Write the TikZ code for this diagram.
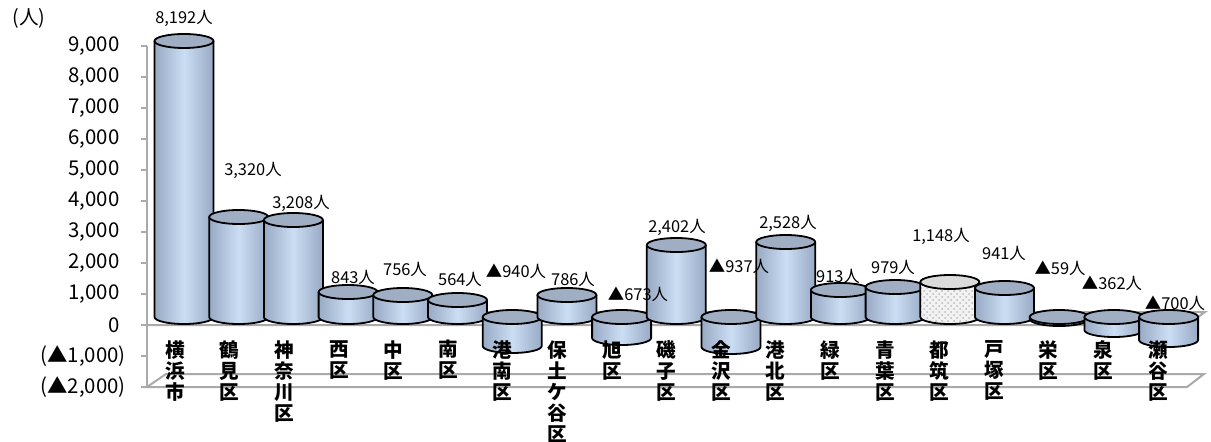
\documentclass[tikz,border=0pt]{standalone}
\usepackage{fontspec}
\setmainfont{Noto Sans CJK JP}
\usepackage{tikz}
\usetikzlibrary{patterns}

\definecolor{barmid}{RGB}{204,222,244}
\definecolor{baredge}{RGB}{152,170,196}
\definecolor{bartop}{RGB}{160,174,196}
\definecolor{axisgray}{RGB}{170,170,170}

% cylinder: #1 x centre, #2 lower end, #3 upper end, #4 body fill, #5 top fill
\newcommand{\cylbar}[5]{%
	\fill[#4] (#1-29.5,#2) -- (#1-29.5,#3) -- (#1+29.5,#3) -- (#1+29.5,#2)
		arc[start angle=0,end angle=-180,x radius=29.5,y radius=7] -- cycle;
	\draw[cyl] (#1-29.5,#3) -- (#1-29.5,#2)
		arc[start angle=180,end angle=360,x radius=29.5,y radius=7] -- (#1+29.5,#3);
	\filldraw[cyl,#5] (#1,#3) ellipse[x radius=29.5,y radius=7];
}

\begin{document}
\begin{tikzpicture}[x=0.5pt, y=0.5pt,
		cyl/.style={draw=black, line width=0.9pt},
		body/.style={left color=baredge, right color=baredge, middle color=barmid},
		top/.style={fill=bartop},
		dotbody/.style={preaction={fill=gray!10}, pattern=crosshatch dots, pattern color=gray!55},
		dottop/.style={fill=gray!28},
		grid/.style={draw=axisgray, line width=1pt},
		tick/.style={font=\fontsize{10.2}{12}\selectfont, anchor=east, inner sep=0pt},
		val/.style={font=\fontsize{8.2}{10}\selectfont, inner sep=0pt},
		ward/.style={font=\bfseries\fontsize{9.8}{10.5}\selectfont, anchor=north, align=center, inner sep=0pt}]
	
	\useasboundingbox (0,-124) rectangle (1211,317);
	
	% Unit
	\node[font=\fontsize{9.8}{11}\selectfont, inner sep=0pt] (unit) at (29,299) {(人)};
	
	% Vertical axis and ticks
	\draw[grid] (147,271) -- (147,-70);
	\draw[grid] (141,271) -- (147,271);
	\draw[grid] (141,240) -- (147,240);
	\draw[grid] (141,209) -- (147,209);
	\draw[grid] (141,178) -- (147,178);
	\draw[grid] (141,147) -- (147,147);
	\draw[grid] (141,116) -- (147,116);
	\draw[grid] (141,85) -- (147,85);
	\draw[grid] (141,54) -- (147,54);
	\draw[grid] (141,23) -- (147,23);
	\draw[grid] (141,-8) -- (147,-8);
	\draw[grid] (141,-39) -- (147,-39);
	\draw[grid] (141,-70) -- (147,-70);
	
	% Axis labels
	\node[tick] (t9) at (120,271) {9,000};
	\node[tick] (t8) at (120,240) {8,000};
	\node[tick] (t7) at (120,209) {7,000};
	\node[tick] (t6) at (120,178) {6,000};
	\node[tick] (t5) at (120,147) {5,000};
	\node[tick] (t4) at (120,116) {4,000};
	\node[tick] (t3) at (120,85) {3,000};
	\node[tick] (t2) at (120,54) {2,000};
	\node[tick] (t1) at (120,23) {1,000};
	\node[tick] (t0) at (120,-8) {0};
	\node[tick] (tm1) at (126,-39) {(▲1,000)};
	\node[tick] (tm2) at (126,-70) {(▲2,000)};
	
	% Floor
	\draw[grid] (147,-70) -- (1187,-70) -- (1204,-57) -- (166,-57) -- cycle;
	
	% Zero plane
	\draw[grid] (147,-8) -- (1187,-8) -- (1205,5) -- (166,5);
	
	% Cylinders
	\cylbar{184}{0}{276}{body}{top}
	\cylbar{238.7}{0}{100}{body}{top}
	\cylbar{293.4}{0}{97}{body}{top}
	\cylbar{348.1}{0}{25}{body}{top}
	\cylbar{402.8}{0}{22}{body}{top}
	\cylbar{457.5}{0}{17}{body}{top}
	\cylbar{512.2}{-29}{0}{body}{top}
	\cylbar{566.9}{0}{22}{body}{top}
	\cylbar{621.6}{-21}{0}{body}{top}
	\cylbar{676.3}{0}{72}{body}{top}
	\cylbar{731}{-30}{0}{body}{top}
	\cylbar{785.7}{0}{75}{body}{top}
	\cylbar{840.4}{0}{27}{body}{top}
	\cylbar{895.1}{0}{30}{body}{top}
	\cylbar{949.8}{0}{35}{dotbody}{dottop}
	\cylbar{1004.5}{0}{29}{body}{top}
	\cylbar{1059.2}{-2}{0}{body}{top}
	\cylbar{1113.9}{-13}{0}{body}{top}
	\cylbar{1168.6}{-23}{0}{body}{top}
	
	% Values
	\node[val] (v1) at (184,299) {8,192人};
	\node[val] (v2) at (253,147) {3,320人};
	\node[val] (v3) at (301,114) {3,208人};
	\node[val] (v4) at (353,40) {843人};
	\node[val] (v5) at (405,48) {756人};
	\node[val] (v6) at (460,38) {564人};
	\node[val] (v7) at (516,46) {▲940人};
	\node[val] (v8) at (573,38) {786人};
	\node[val] (v9) at (638,23) {▲673人};
	\node[val] (v10) at (677,90) {2,402人};
	\node[val] (v11) at (739,51) {▲937人};
	\node[val] (v12) at (788,94) {2,528人};
	\node[val] (v13) at (838,41) {913人};
	\node[val] (v14) at (893,50) {979人};
	\node[val] (v15) at (941,81) {1,148人};
	\node[val] (v16) at (1004,64) {941人};
	\node[val] (v17) at (1060,49) {▲59人};
	\node[val] (v18) at (1112,34) {▲362人};
	\node[val] (v19) at (1175,14) {▲700人};
	
	% Ward names
	\node[ward] (w1) at (175,-23) {横\\浜\\市};
	\node[ward] (w2) at (229.6,-23) {鶴\\見\\区};
	\node[ward] (w3) at (284.2,-23) {神\\奈\\川\\区};
	\node[ward] (w4) at (338.8,-23) {西\\区};
	\node[ward] (w5) at (393.4,-23) {中\\区};
	\node[ward] (w6) at (448,-23) {南\\区};
	\node[ward] (w7) at (502.6,-23) {港\\南\\区};
	\node[ward] (w8) at (557.2,-23) {保\\土\\ケ\\谷\\区};
	\node[ward] (w9) at (611.8,-23) {旭\\区};
	\node[ward] (w10) at (666.4,-23) {磯\\子\\区};
	\node[ward] (w11) at (721,-23) {金\\沢\\区};
	\node[ward] (w12) at (775.6,-23) {港\\北\\区};
	\node[ward] (w13) at (830.2,-23) {緑\\区};
	\node[ward] (w14) at (884.8,-23) {青\\葉\\区};
	\node[ward] (w15) at (939.4,-23) {都\\筑\\区};
	\node[ward] (w16) at (994,-23) {戸\\塚\\区};
	\node[ward] (w17) at (1048.6,-23) {栄\\区};
	\node[ward] (w18) at (1103.2,-23) {泉\\区};
	\node[ward] (w19) at (1157.8,-23) {瀬\\谷\\区};
	
\end{tikzpicture}
\end{document}
